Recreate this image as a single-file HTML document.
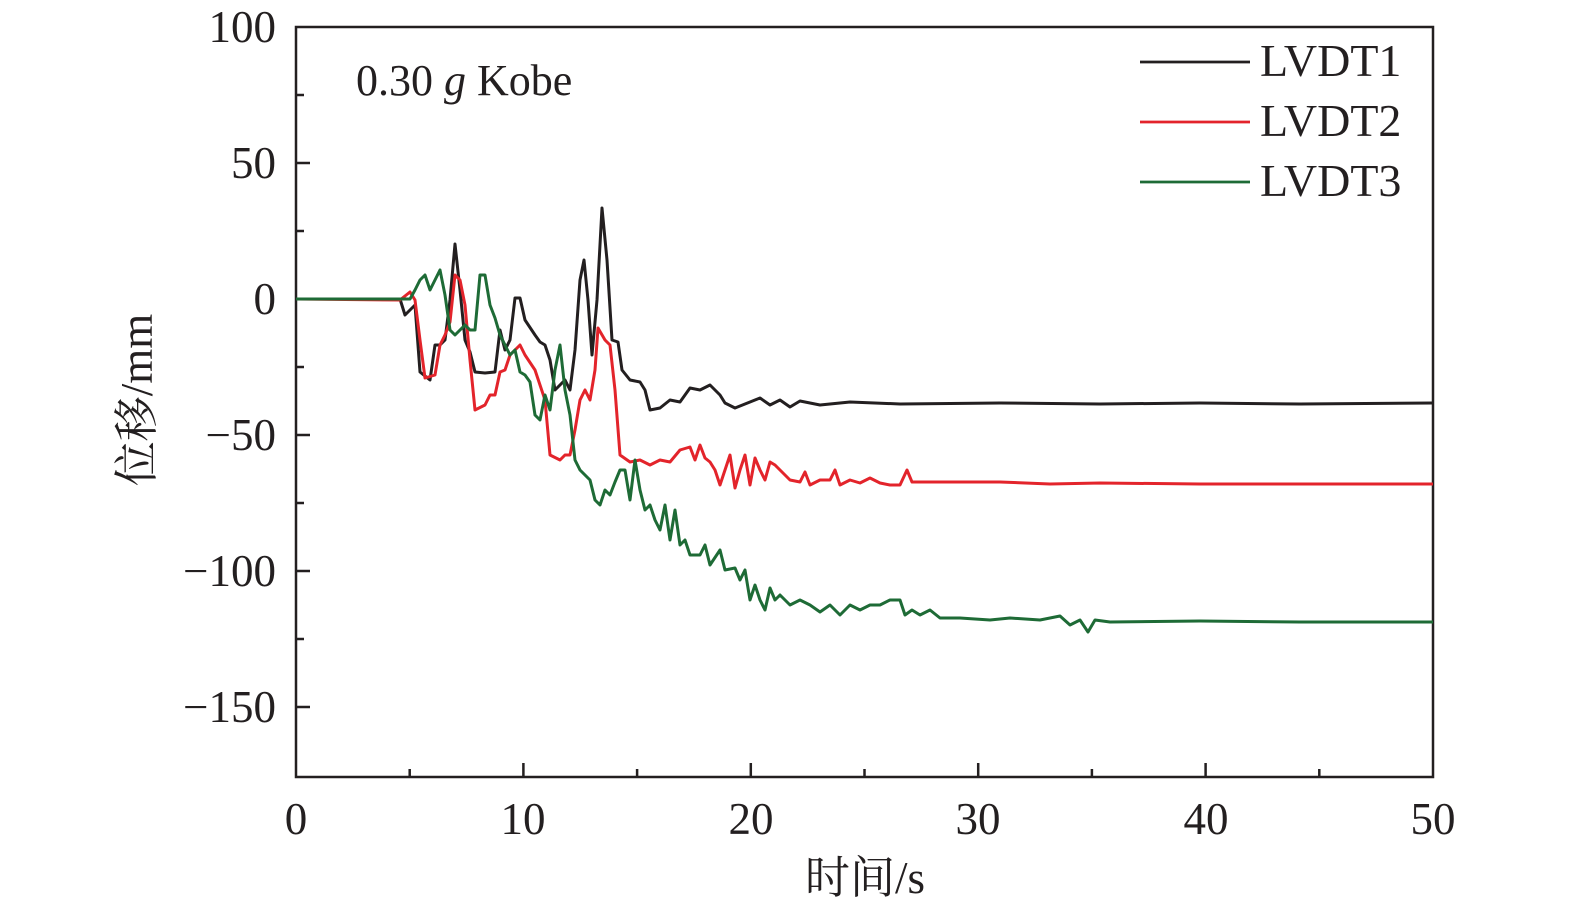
<!DOCTYPE html>
<html><head><meta charset="utf-8"><style>
body{margin:0;background:#fff}
text{font-family:"Liberation Serif","Noto Serif CJK SC",serif;fill:#231f20}
</style></head><body>
<svg width="1575" height="915" viewBox="0 0 1575 915" xmlns="http://www.w3.org/2000/svg">
<rect width="1575" height="915" fill="#fff"/>
<g stroke="#231f20" stroke-width="2.5" fill="none">
<rect x="296" y="27" width="1137" height="750"/>
<path d="M523.4,777v-14M750.8,777v-14M978.2,777v-14M1205.6,777v-14M409.7,777v-8M637.1,777v-8M864.5,777v-8M1091.9,777v-8M1319.3,777v-8"/>
<path d="M296,163h14M296,299h14M296,435h14M296,571h14M296,707h14M296,95h8M296,231h8M296,367h8M296,503h8M296,639h8"/>
</g>
<g font-size="45" text-anchor="end">
<text x="276" y="42">100</text>
<text x="276" y="178">50</text>
<text x="276" y="314">0</text>
<text x="276" y="450">−50</text>
<text x="276" y="586">−100</text>
<text x="276" y="722">−150</text>
</g>
<g font-size="45" text-anchor="middle">
<text x="296" y="834">0</text>
<text x="523" y="834">10</text>
<text x="751" y="834">20</text>
<text x="978" y="834">30</text>
<text x="1206" y="834">40</text>
<text x="1433" y="834">50</text>
<text x="865" y="893">时间/s</text>
<text transform="translate(152,400) rotate(-90)">位移/mm</text>
</g>
<text x="356" y="95" font-size="44">0.30<tspan font-style="italic"> g</tspan> Kobe</text>
<g stroke-width="2.8">
<line x1="1140" y1="62" x2="1250" y2="62" stroke="#231f20"/>
<line x1="1140" y1="122" x2="1250" y2="122" stroke="#e3242b"/>
<line x1="1140" y1="182" x2="1250" y2="182" stroke="#1e6b36"/>
</g>
<g font-size="46"><text x="1260" y="76">LVDT1</text><text x="1260" y="136">LVDT2</text><text x="1260" y="196">LVDT3</text></g>
<g fill="none" stroke-width="3" stroke-linejoin="round">
<polyline stroke="#231f20" points="296,299 400,299 405,315 415,305 420,372 430,380 435,345 440,345 445,340 450,300 455,244 460,290 465,340 470,352 475,372 485,373 495,372 500,330 505,350 510,340 515,298 520,298 525,320 535,335 540,342 545,345 550,360 555,390 560,385 565,380 570,390 575,350 580,280 584,260 588,300 592,355 597,300 602,208 607,260 612,340 618,342 622,370 630,380 640,382 645,390 650,410 660,408 670,400 680,402 690,388 700,390 710,385 720,395 725,403 735,408 750,402 760,398 770,405 780,400 790,407 800,401 820,405 850,402 900,404 1000,403 1100,404 1200,403 1300,404 1433,403"/>
<polyline stroke="#e3242b" points="296,299 400,300 410,292 415,300 420,340 425,378 435,375 440,345 445,335 450,322 455,275 460,280 465,305 470,360 475,410 485,405 490,395 495,395 500,372 505,370 510,355 515,350 520,345 525,355 535,370 545,400 550,455 560,460 565,455 570,455 575,430 580,400 585,390 590,400 595,370 598,328 605,340 610,345 615,390 620,455 630,462 640,460 650,465 660,460 670,462 680,450 690,447 695,460 700,445 705,458 710,462 715,470 720,485 725,470 730,455 735,488 740,470 745,455 750,485 755,458 760,470 765,480 770,462 775,465 780,470 790,480 800,482 805,472 810,485 820,480 830,480 835,470 840,485 850,480 860,483 870,478 880,483 890,485 900,485 907,470 912,482 930,482 1000,482 1050,484 1100,483 1200,484 1300,484 1433,484"/>
<polyline stroke="#1e6b36" points="296,299 410,299 415,290 420,280 425,275 430,290 435,280 440,270 445,295 450,330 455,335 460,330 465,325 470,330 475,330 480,275 485,275 490,305 495,318 500,335 505,345 510,355 515,350 520,372 525,375 530,382 535,415 540,420 545,395 550,410 555,370 560,345 565,390 570,415 575,460 580,470 585,475 590,480 595,500 600,505 605,490 610,495 615,482 620,470 625,470 630,500 635,460 640,490 645,510 650,505 655,520 660,530 665,505 670,540 675,510 680,545 685,540 690,555 700,555 705,545 710,565 720,550 725,570 735,568 740,580 745,570 750,600 755,585 760,600 765,610 770,588 775,600 780,595 790,605 800,600 810,605 820,612 830,605 840,615 850,605 860,610 870,605 880,605 890,600 900,600 905,615 912,610 920,615 930,610 940,618 960,618 990,620 1010,618 1040,620 1060,616 1070,625 1080,620 1088,632 1095,620 1110,622 1200,621 1300,622 1433,622"/>
</g>
</svg>
</body></html>
